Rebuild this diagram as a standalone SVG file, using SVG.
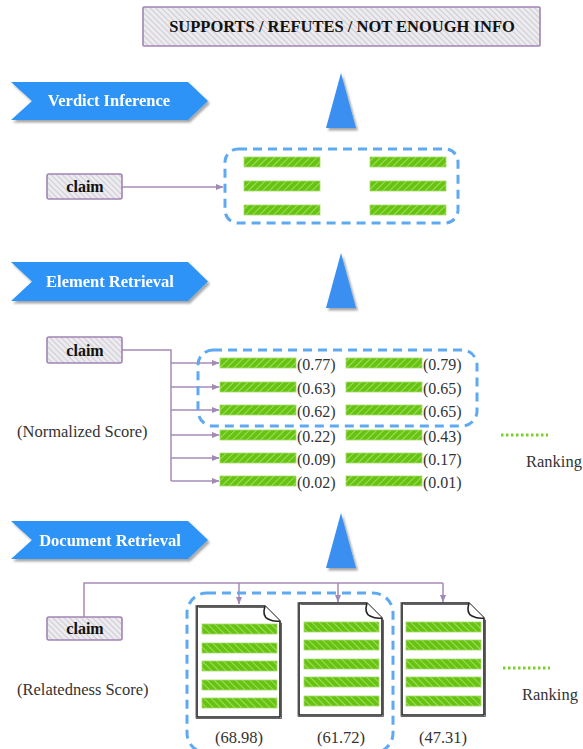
<svg xmlns="http://www.w3.org/2000/svg" width="583" height="749" viewBox="0 0 583 749">
  <defs>
    <style>
      .banner { fill: #2f93f7; }
      .tri { fill: #3a8ff0; }
      .hatchbox { fill: url(#grayHatch); stroke: #a184b6; stroke-width: 1.6; }
      .bar { fill: url(#greenBack); stroke: #a6d96a; stroke-width: 0.8; }
      .bar2 { fill: url(#greenFwd); stroke: #a6d96a; stroke-width: 0.8; }
      .dash { fill: none; stroke: #5ea9f2; stroke-width: 3; stroke-dasharray: 9 6; }
      .wire { fill: none; stroke: #a68bb8; stroke-width: 1.5; }
      .doc { fill: #ffffff; stroke: #222222; stroke-width: 1.6; stroke-linejoin: round; }
      .docsketch { fill: none; stroke: #555555; stroke-width: 0.9; }
      .rank { stroke: #7ccf2a; stroke-width: 3; stroke-dasharray: 2.5 2.5; }
    </style>
    <pattern id="grayHatch" width="4" height="4" patternUnits="userSpaceOnUse" patternTransform="rotate(-45)">
      <rect width="4" height="4" fill="#ecebef"/>
      <line x1="0" y1="0" x2="0" y2="4" stroke="#a8a4ae" stroke-width="0.9"/>
    </pattern>
    <pattern id="greenBack" width="5" height="5" patternUnits="userSpaceOnUse" patternTransform="rotate(45)">
      <rect width="5" height="5" fill="#66c30f"/>
      <line x1="0" y1="0" x2="0" y2="5" stroke="#c9ef9e" stroke-width="1.2"/>
    </pattern>
    <pattern id="greenFwd" width="5" height="5" patternUnits="userSpaceOnUse" patternTransform="rotate(-45)">
      <rect width="5" height="5" fill="#66c30f"/>
      <line x1="0" y1="0" x2="0" y2="5" stroke="#c9ef9e" stroke-width="1.2"/>
    </pattern>
    <filter id="shadow" x="-10%" y="-20%" width="130%" height="150%">
      <feDropShadow dx="2" dy="2.5" stdDeviation="1.2" flood-color="#000000" flood-opacity="0.35"/>
    </filter>
    <marker id="arrow" viewBox="0 0 8 8" refX="7.5" refY="4" markerWidth="8" markerHeight="8" markerUnits="userSpaceOnUse" orient="auto">
      <path d="M0,0.8 L8,4 L0,7.2 Z" fill="#a08ab5"/>
    </marker>
  </defs>

  <!-- Output labels -->
  <g id="verdict-output">
    <rect class="hatchbox" x="143" y="7" width="397" height="39" rx="1"/>
    <text x="342" y="32" style="font-family:'Liberation Serif',serif;font-weight:bold;font-size:16.5px;fill:#111;text-anchor:middle">SUPPORTS / REFUTES / NOT ENOUGH INFO</text>
  </g>

  <!-- Stage banners -->
  <g id="stage-verdict" filter="url(#shadow)">
    <polygon class="banner" points="11,82 188,82 208,101 188,120 11,120 32,101"/>
    <text x="109" y="106" style="font-family:'Liberation Serif',serif;font-weight:bold;font-size:16.5px;fill:#fff;text-anchor:middle">Verdict Inference</text>
  </g>
  <g id="stage-element" filter="url(#shadow)">
    <polygon class="banner" points="11,262 188,262 208,281.5 188,301 11,301 32,281.5"/>
    <text x="110" y="287" style="font-family:'Liberation Serif',serif;font-weight:bold;font-size:16.5px;fill:#fff;text-anchor:middle">Element Retrieval</text>
  </g>
  <g id="stage-document" filter="url(#shadow)">
    <polygon class="banner" points="11,521 188,521 208,540 188,559 11,559 32,540"/>
    <text x="110" y="546" style="font-family:'Liberation Serif',serif;font-weight:bold;font-size:16.5px;fill:#fff;text-anchor:middle">Document Retrieval</text>
  </g>

  <!-- Flow triangles -->
  <g id="flow-up" filter="url(#shadow)">
    <polygon class="tri" points="341,73 356,128 326,128"/>
    <polygon class="tri" points="341,253 356,308 326,308"/>
    <polygon class="tri" points="341,513 356,568 326,568"/>
  </g>

  <!-- Connectors -->
  <g id="connectors">
    <path class="wire" d="M122,187 H223" marker-end="url(#arrow)"/>
    <path class="wire" d="M122,350 H171 V481"/>
    <path class="wire" d="M171,363 H219" marker-end="url(#arrow)"/>
    <path class="wire" d="M171,387 H219" marker-end="url(#arrow)"/>
    <path class="wire" d="M171,410 H219" marker-end="url(#arrow)"/>
    <path class="wire" d="M171,435 H219" marker-end="url(#arrow)"/>
    <path class="wire" d="M171,458 H219" marker-end="url(#arrow)"/>
    <path class="wire" d="M171,481 H219" marker-end="url(#arrow)"/>
    <path class="wire" d="M84,617 V583 H443"/>
    <path class="wire" d="M239,583 V604" marker-end="url(#arrow)"/>
    <path class="wire" d="M338,583 V602" marker-end="url(#arrow)"/>
    <path class="wire" d="M443,583 V602" marker-end="url(#arrow)"/>
  </g>

  <!-- Verdict stage: claim + selected evidence -->
  <g id="claim-verdict">
    <rect class="hatchbox" x="47" y="174" width="75" height="25" rx="2"/>
    <text x="85" y="192" style="font-family:'Liberation Serif',serif;font-weight:bold;font-size:16px;fill:#111;text-anchor:middle">claim</text>
  </g>
  <g id="evidence-selected">
    <rect class="dash" x="225" y="149" width="233" height="74" rx="13"/>
    <rect class="bar" x="244" y="157" width="76" height="10"/>
    <rect class="bar" x="244" y="181" width="76" height="10"/>
    <rect class="bar" x="244" y="205" width="76" height="10"/>
    <rect class="bar" x="370" y="157" width="76" height="10"/>
    <rect class="bar" x="370" y="181" width="76" height="10"/>
    <rect class="bar" x="370" y="205" width="76" height="10"/>
  </g>

  <!-- Element stage -->
  <g id="claim-element">
    <rect class="hatchbox" x="47" y="337" width="75" height="26" rx="2"/>
    <text x="85" y="356" style="font-family:'Liberation Serif',serif;font-weight:bold;font-size:16px;fill:#111;text-anchor:middle">claim</text>
  </g>
  <text x="17" y="437" style="font-family:'Liberation Serif',serif;font-size:16.5px;fill:#333">(Normalized Score)</text>
  <g id="elements">
    <rect class="dash" x="198" y="350" width="279" height="76" rx="15"/>
    <g>
      <rect class="bar" x="220" y="358" width="76" height="10"/>
      <rect class="bar" x="220" y="382" width="76" height="10"/>
      <rect class="bar" x="220" y="405" width="76" height="10"/>
      <rect class="bar" x="220" y="430" width="76" height="10"/>
      <rect class="bar" x="220" y="453" width="76" height="10"/>
      <rect class="bar" x="220" y="476" width="76" height="10"/>
      <rect class="bar" x="346" y="358" width="76" height="10"/>
      <rect class="bar" x="346" y="382" width="76" height="10"/>
      <rect class="bar" x="346" y="405" width="76" height="10"/>
      <rect class="bar" x="346" y="430" width="76" height="10"/>
      <rect class="bar" x="346" y="453" width="76" height="10"/>
      <rect class="bar" x="346" y="476" width="76" height="10"/>
    </g>
    <g style="font-family:'Liberation Serif',serif;font-size:16px;fill:#333">
      <text x="297" y="370">(0.77)</text>
      <text x="297" y="394">(0.63)</text>
      <text x="297" y="417">(0.62)</text>
      <text x="297" y="442">(0.22)</text>
      <text x="297" y="465">(0.09)</text>
      <text x="297" y="488">(0.02)</text>
      <text x="423" y="370">(0.79)</text>
      <text x="423" y="394">(0.65)</text>
      <text x="423" y="417">(0.65)</text>
      <text x="423" y="442">(0.43)</text>
      <text x="423" y="465">(0.17)</text>
      <text x="423" y="488">(0.01)</text>
    </g>
  </g>
  <g id="ranking-element">
    <line class="rank" x1="501" y1="435" x2="548" y2="435"/>
    <text x="526" y="467" style="font-family:'Liberation Serif',serif;font-size:16.5px;fill:#333">Ranking</text>
  </g>

  <!-- Document stage -->
  <g id="claim-document">
    <rect class="hatchbox" x="47" y="617" width="75" height="23" rx="2"/>
    <text x="85" y="634" style="font-family:'Liberation Serif',serif;font-weight:bold;font-size:16px;fill:#111;text-anchor:middle">claim</text>
  </g>
  <text x="17" y="695" style="font-family:'Liberation Serif',serif;font-size:16.5px;fill:#333">(Relatedness Score)</text>
  <rect class="dash" x="187" y="593" width="206" height="160" rx="20"/>

  <g id="doc-1">
    <path class="doc" d="M197,606 H265 L280,621 V717 H197 Z"/>
    <path class="docsketch" d="M198.5,607.5 H264 L281.5,623 V718.5 H196 V605"/>
    <path class="doc" d="M265,606 Q262,616 268,619 Q274,622 280,621"/>
    <rect class="bar2" x="202" y="624" width="75" height="10"/>
    <rect class="bar2" x="202" y="643" width="75" height="10"/>
    <rect class="bar2" x="202" y="661" width="75" height="10"/>
    <rect class="bar2" x="202" y="680" width="75" height="10"/>
    <rect class="bar2" x="202" y="698" width="75" height="10"/>
    <text x="239" y="743" style="font-family:'Liberation Serif',serif;font-size:16.5px;fill:#333;text-anchor:middle">(68.98)</text>
  </g>
  <g id="doc-2">
    <path class="doc" d="M299,603 H367 L382,618 V715 H299 Z"/>
    <path class="docsketch" d="M300.5,604.5 H366 L383.5,620 V716.5 H298 V602"/>
    <path class="doc" d="M367,603 Q364,613 370,616 Q376,619 382,618"/>
    <rect class="bar2" x="304" y="622" width="75" height="10"/>
    <rect class="bar2" x="304" y="640" width="75" height="10"/>
    <rect class="bar2" x="304" y="659" width="75" height="10"/>
    <rect class="bar2" x="304" y="677" width="75" height="10"/>
    <rect class="bar2" x="304" y="696" width="75" height="10"/>
    <text x="341" y="743" style="font-family:'Liberation Serif',serif;font-size:16.5px;fill:#333;text-anchor:middle">(61.72)</text>
  </g>
  <g id="doc-3">
    <path class="doc" d="M402,603 H469 L484,618 V715 H402 Z"/>
    <path class="docsketch" d="M403.5,604.5 H468 L485.5,620 V716.5 H401 V602"/>
    <path class="doc" d="M469,603 Q466,613 472,616 Q478,619 484,618"/>
    <rect class="bar2" x="406" y="622" width="75" height="10"/>
    <rect class="bar2" x="406" y="640" width="75" height="10"/>
    <rect class="bar2" x="406" y="659" width="75" height="10"/>
    <rect class="bar2" x="406" y="677" width="75" height="10"/>
    <rect class="bar2" x="406" y="696" width="75" height="10"/>
    <text x="443" y="743" style="font-family:'Liberation Serif',serif;font-size:16.5px;fill:#333;text-anchor:middle">(47.31)</text>
  </g>
  <g id="ranking-document">
    <line class="rank" x1="503" y1="668" x2="550" y2="668"/>
    <text x="522" y="700" style="font-family:'Liberation Serif',serif;font-size:16.5px;fill:#333">Ranking</text>
  </g>
</svg>
